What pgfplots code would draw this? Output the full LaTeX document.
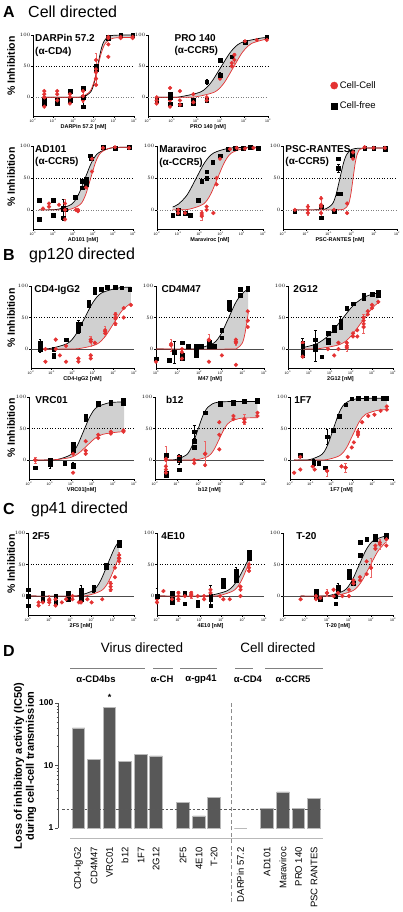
\documentclass[border=0pt]{standalone}
\usepackage{fontspec}
\setmainfont{Liberation Sans}
\usepackage{pgfplots}
\pgfplotsset{compat=1.18}
\usepgfplotslibrary{fillbetween}
\definecolor{cc}{RGB}{228,50,50}
\definecolor{fillgray}{RGB}{208,208,208}
\definecolor{barfill}{RGB}{88,88,88}
\definecolor{baredge}{RGB}{185,185,185}
\tikzset{pname/.style={anchor=north west, align=left, font=\bfseries\fontsize{10}{12.5}\selectfont, inner sep=0pt}}
\pgfplotsset{
  dr/.style={
    scale only axis, set layers, clip=false,
    axis lines*=left,
    axis line style={line width=0.5pt},
    ymin=-30, ymax=100, ytick={0,50,100},
    xtick={-3,...,5},
    minor xtick={-2.699,-2.523,-2.398,-2.301,-2.222,-2.155,-2.097,-2.046,
      -1.699,-1.523,-1.398,-1.301,-1.222,-1.155,-1.097,-1.046,
      -0.699,-0.523,-0.398,-0.301,-0.222,-0.155,-0.097,-0.046,
      0.301,0.477,0.602,0.699,0.778,0.845,0.903,0.954,
      1.301,1.477,1.602,1.699,1.778,1.845,1.903,1.954,
      2.301,2.477,2.602,2.699,2.778,2.845,2.903,2.954,
      3.301,3.477,3.602,3.699,3.778,3.845,3.903,3.954,
      4.301,4.477,4.602,4.699,4.778,4.845,4.903,4.954},
    xticklabel={10\textsuperscript{\pgfmathparse{int(round(\tick))}\pgfmathresult}},
    tick align=outside,
    major tick length=1.6pt, minor tick length=0.9pt,
    tick style={black, line width=0.4pt},
    yticklabel style={font=\fontsize{3.8}{4}\selectfont, inner sep=1pt},
    xticklabel style={font=\fontsize{3.5}{4}\selectfont, inner sep=1pt},
    xlabel style={font=\bfseries\fontsize{5.5}{6}\selectfont, inner sep=1pt},
  },
  bk/.style={black, line width=0.7pt, smooth},
  rd/.style={cc, line width=0.7pt, smooth},
  bkm/.style={only marks, mark=square*, mark size=1.8pt, black},
  rdm/.style={only marks, mark=*, mark size=1.9pt, cc},
  bke/.style={only marks, mark=square*, mark size=1.8pt, black, error bars/.cd, y dir=both, y explicit, error bar style={line width=0.45pt, black}, error mark options={rotate=90, mark size=1.3pt, line width=0.45pt, black}},
  rde/.style={only marks, mark=*, mark size=1.9pt, cc, error bars/.cd, y dir=both, y explicit, error bar style={line width=0.45pt, cc!75}, error mark options={rotate=90, mark size=1.3pt, line width=0.45pt, cc!75}},
  half/.style={black, dotted, line width=0.6pt},
  zeroA/.style={gray, dotted, line width=0.5pt},
  zeroB/.style={black!70, line width=0.6pt},
  gfill/.style={fillgray, draw=none},
}
\begin{document}
\begin{tikzpicture}
% ---------- titles ----------
\node[anchor=west, font=\bfseries\fontsize{16}{16}\selectfont, inner sep=0pt] at (3pt,-12pt) {A};
\node[anchor=west, font=\fontsize{16}{16}\selectfont, inner sep=0pt] at (28pt,-12pt) {Cell directed};
\node[anchor=west, font=\bfseries\fontsize{16}{16}\selectfont, inner sep=0pt] at (3pt,-255pt) {B};
\node[anchor=west, font=\fontsize{16}{16}\selectfont, inner sep=0pt] at (29pt,-255pt) {gp120 directed};
\node[anchor=west, font=\bfseries\fontsize{16}{16}\selectfont, inner sep=0pt] at (3pt,-509pt) {C};
\node[anchor=west, font=\fontsize{16}{16}\selectfont, inner sep=0pt] at (31pt,-509pt) {gp41 directed};
\node[anchor=west, font=\bfseries\fontsize{16}{16}\selectfont, inner sep=0pt] at (3pt,-651pt) {D};
% y labels
\foreach \yy in {66,177,318,428,564}{
  \node[rotate=90, font=\bfseries\fontsize{10.5}{11}\selectfont] at (11pt,-\yy pt) {\% Inhibition};
}

% ---------- P1 DARPin ----------
\begin{axis}[dr, at={(33pt,-116pt)}, anchor=south west, width=101pt, height=81pt, xmin=-2, xmax=3, xlabel={DARPin 57.2 [nM]}]
\addplot[half] coordinates {(-2,50)(3,50)};
\addplot[zeroA] coordinates {(-2,0)(3,0)};
\addplot[bk, name path=b1] coordinates {(-1.44,0)(0.2,0)(0.533,1)(0.867,9.1)(1.033,24)(1.2,50)(1.367,76)(1.533,90.9)(1.867,99)(2.93,100)};
\addplot[rd, name path=r1] coordinates {(-1.44,0)(0,0)(0.4,1)(0.8,8.7)(1.0,23)(1.2,48)(1.4,73)(1.6,87.3)(2.0,95)(2.93,96)};
\addplot[gfill] fill between[of=b1 and r1];
\addplot[bkm] coordinates {(-1.44,-5)(-1.44,-10)(-0.8,-5)(-0.8,-10)(-0.17,10)(-0.17,-5)(0.48,15)(0.48,-15)(1.12,50)(1.12,45)(1.73,97)(1.73,95)(2.34,100)(2.93,100)};
\addplot[rdm] coordinates {(-1.44,-15)(-1.44,0)(-1.44,10)(-1.44,5)(-0.8,10)(-0.8,-5)(-0.8,5)(-0.17,0)(-0.17,-10)(-0.17,5)(0.48,10)(0.48,-5)(0.48,0)(1.12,40)(1.12,60)(1.12,20)(1.12,30)(1.73,95)(1.73,85)(1.73,65)(1.73,97)(2.34,95)(2.34,97)(2.93,97)(2.93,95)};
\addplot[bke] coordinates {(0.48,0) +- (0,15)};
\addplot[rde] coordinates {(1.12,45) +- (0,25) (-1.44,0) +- (0,10) (0.48,2) +- (0,10)};
\node[pname] at (rel axis cs:0.02,1.01) {DARPin 57.2\\(α-CD4)};
\end{axis}

% ---------- P2 PRO 140 ----------
\begin{axis}[dr, at={(148pt,-116pt)}, anchor=south west, width=120pt, height=81pt, xmin=-2, xmax=3, xlabel={PRO 140 [nM]},
  legend style={at={(1.52,0.25)}, anchor=west, draw=none, fill=none, font=\fontsize{9.5}{10}\selectfont, row sep=8pt, inner sep=0pt}, legend cell align=left]
\addlegendimage{only marks, mark=*, mark size=3.6pt, cc}
\addlegendentry{Cell-Cell}
\addlegendimage{only marks, mark=square*, mark size=3pt, black}
\addlegendentry{Cell-free}
\addplot[half] coordinates {(-2,50)(3,50)};
\addplot[zeroA] coordinates {(-2,0)(3,0)};
\addplot[bk, name path=b2] coordinates {(-1.64,0)(-1,0)(-0.637,1)(0.197,8.7)(0.613,23)(1.03,48)(1.447,73)(1.863,87.3)(2.697,95)(2.95,95.5)};
\addplot[rd, name path=r2] coordinates {(-1.64,0)(-0.5,0)(0.012,0.9)(0.781,8.6)(1.165,22.8)(1.55,47.5)(1.935,72.2)(2.319,86.4)(2.95,93.6)};
\addplot[gfill] fill between[of=b2 and r2];
\addplot[bkm] coordinates {(-1.64,-5)(-1.08,-10)(-1.08,5)(-0.67,-12)(-0.11,-10)(-0.11,-5)(0.45,-5)(0.45,25)(1.0,35)(1.0,60)(1.49,65)(2.04,88)(2.95,97)};
\addplot[rdm] coordinates {(-1.64,-10)(-1.64,0)(-1.08,15)(-1.08,-5)(-1.08,-15)(-0.67,10)(-0.67,-12)(-0.67,-5)(-0.11,5)(-0.11,-8)(0.45,0)(0.45,-5)(1.0,30)(1.49,55)(1.49,50)(1.6,68)(2.04,90)(2.53,92)(2.95,92)};
\addplot[bke] coordinates {(1.0,35) +- (0,5) (-1.08,0) +- (0,8) (0.45,25) +- (0,4)};
\addplot[rde] coordinates {(1.6,60) +- (0,10) (-1.64,-5) +- (0,5)};
\node[pname] at (rel axis cs:0.22,1.01) {PRO 140\\(α-CCR5)};
\end{axis}

% ---------- P3 AD101 ----------
\begin{axis}[dr, at={(33pt,-229pt)}, anchor=south west, width=100pt, height=83pt, xmin=-1, xmax=4, xlabel={AD101 [nM]}]
\addplot[half] coordinates {(-1,50)(4,50)};
\addplot[zeroA] coordinates {(-1,0)(4,0)};
\addplot[bk, name path=b3] coordinates {(-0.7,0)(-0.2,0)(0.267,1)(0.933,8.9)(1.267,23.5)(1.6,49)(1.933,74.5)(2.267,89.1)(2.933,97)(3.8,98)};
\addplot[rd, name path=r3] coordinates {(-0.7,0)(0.4,0)(0.88,1)(1.38,8.9)(1.63,23.5)(1.88,49)(2.13,74.5)(2.38,89.1)(2.88,97)(3.8,98)};
\addplot[gfill] fill between[of=b3 and r3];
\addplot[bkm] coordinates {(-0.7,15)(-0.7,-15)(0.0,15)(0.0,-8)(0.5,3)(0.5,-12)(0.6,0)(1.1,20)(1.45,35)(1.45,45)(1.65,40)(1.65,48)(1.85,85)(1.9,80)(2.5,98)(3.1,97)(3.8,98)};
\addplot[rdm] coordinates {(-0.5,2)(-0.2,10)(-0.2,5)(0.3,8)(0.6,0)(0.6,-15)(0.6,10)(1.15,0)(1.25,-2)(1.25,0)(1.65,35)(1.95,60)(1.95,80)(2.5,97)(3.1,98)(3.8,97)};
\addplot[bke] coordinates {(0.5,0) +- (0,16)};
\addplot[rde] coordinates {(0.6,0) +- (0,17)};
\node[pname] at (rel axis cs:0.02,1.01) {AD101\\(α-CCR5)};
\end{axis}

% ---------- P4 Maraviroc ----------
\begin{axis}[dr, at={(157pt,-229pt)}, anchor=south west, width=106pt, height=83pt, xmin=-2, xmax=3, xlabel={Maraviroc [nM]}]
\addplot[half] coordinates {(-2,50)(3,50)};
\addplot[zeroA] coordinates {(-2,0)(3,0)};
\addplot[bk, name path=b4] coordinates {(-1.26,4.5)(-0.993,8.9)(-0.577,23.5)(-0.16,49)(0.257,74.5)(0.673,89.1)(1.507,97)(2.78,98)};
\addplot[rd, name path=r4] coordinates {(-1.26,0)(-1.0,0)(-0.483,1)(0.183,8.9)(0.517,23.5)(0.85,49)(1.183,74.5)(1.517,89.1)(2.183,97)(2.78,98)};
\addplot[gfill] fill between[of=b4 and r4];
\addplot[bkm] coordinates {(-1.26,-8)(-1.0,-5)(-1.0,0)(-0.68,-5)(-0.44,-8)(-0.05,15)(0.11,45)(0.34,50)(0.34,60)(0.63,75)(0.97,85)(1.33,95)(1.68,97)(2.07,97)(2.39,98)(2.78,97)};
\addplot[rdm] coordinates {(-1.0,0)(-1.0,-5)(-0.68,-5)(0.11,-10)(0.11,-5)(0.34,0)(0.34,5)(0.66,-5)(0.81,50)(0.81,40)(0.97,80)(1.44,95)(1.76,97)(2.15,96)(2.55,97)};
\addplot[rde] coordinates {(0.11,-8) +- (0,8)};
\node[pname] at (rel axis cs:0.02,1.01) {Maraviroc\\(α-CCR5)};
\end{axis}

% ---------- P5 PSC-RANTES ----------
\begin{axis}[dr, at={(283pt,-229pt)}, anchor=south west, width=114pt, height=83pt, xmin=-3, xmax=2, xlabel={PSC-RANTES [nM]}]
\addplot[half] coordinates {(-3,50)(2,50)};
\addplot[zeroA] coordinates {(-3,0)(2,0)};
\addplot[bk, name path=b5] coordinates {(-2.48,0)(-1.6,0)(-1.177,1)(-0.843,8.8)(-0.677,23.3)(-0.51,48.5)(-0.343,73.7)(-0.177,88.2)(0.157,96)(1.47,97)};
\addplot[rd, name path=r5] coordinates {(-2.48,0)(-0.8,0)(-0.33,1)(-0.13,8.8)(-0.03,23.3)(0.07,48.5)(0.17,73.7)(0.27,88.2)(0.47,96)(1.47,97)};
\addplot[gfill] fill between[of=b5 and r5];
\addplot[bkm] coordinates {(-2.48,-2)(-1.33,-12)(-1.33,5)(-0.76,-2)(-0.57,25)(-0.57,65)(-0.57,80)(-0.47,25)(0.04,85)(0.04,90)(0.58,97)(0.97,97)(1.47,97)(1.47,95)};
\addplot[rdm] coordinates {(-2.48,0)(-1.91,5)(-1.91,-5)(-1.33,8)(-1.33,-5)(-1.33,18)(-0.76,0)(-0.19,10)(-0.19,-5)(0.07,80)(0.07,90)(0.58,98)(0.97,97)(1.47,97)};
\addplot[rde] coordinates {(-1.33,5) +- (0,16) (-1.91,0) +- (0,9)};
\addplot[bke] coordinates {(-0.57,65) +- (0,6)};
\node[pname] at (rel axis cs:0.02,1.01) {PSC-RANTES\\(α-CCR5)};
\end{axis}

% ---------- P6 CD4-IgG2 ----------
\begin{axis}[dr, at={(31pt,-368pt)}, anchor=south west, width=103pt, height=82pt, xmin=-2, xmax=3, xlabel={CD4-IgG2 [nM]}]
\addplot[half] coordinates {(-2,50)(3,50)};
\addplot[zeroB] coordinates {(-2,0)(3,0)};
\addplot[bk, name path=b6] coordinates {(-1.56,0)(-1.067,1)(-0.233,8.9)(0.183,23.5)(0.6,49)(1.017,74.5)(1.433,89.1)(2.267,97)(2.85,98)};
\addplot[rd, name path=r6] coordinates {(-1.56,0)(-0.5,0)(0.333,0.8)(1.167,7.3)(1.583,19.2)(2.0,40)(2.417,60.8)(2.85,72.9)};
\addplot[gfill] fill between[of=b6 and r6];
\addplot[bkm] coordinates {(-1.56,10)(-1.56,0)(-0.9,0)(-0.9,-10)(-0.9,-12)(-0.3,15)(0.3,40)(0.3,30)(0.4,40)(0.8,75)(0.8,70)(1.1,90)(1.1,95)(1.4,95)(1.7,98)(2.1,98)(2.4,97)(2.8,95)};
\addplot[rdm] coordinates {(-1.3,0)(-1.3,-20)(-0.8,15)(-0.8,0)(-0.6,-10)(-0.3,-20)(-0.3,5)(0.3,-15)(0.3,-20)(0.9,15)(0.9,-10)(0.9,-15)(1.1,10)(1.6,30)(1.6,25)(2.1,50)(2.1,55)(2.1,40)(2.5,65)(2.5,50)(2.85,70)};
\addplot[bke] coordinates {(-1.56,5) +- (0,10) (0.3,35) +- (0,10)};
\addplot[rde] coordinates {(1.6,28) +- (0,8) (2.1,48) +- (0,10) (0.9,12) +- (0,8)};
\node[pname] at (rel axis cs:0.03,1.01) {CD4-IgG2};
\end{axis}

% ---------- P7 CD4M47 ----------
\begin{axis}[dr, at={(156pt,-368pt)}, anchor=south west, width=108pt, height=82pt, xmin=0, xmax=5, xlabel={M47 [nM]}]
\addplot[half] coordinates {(0,50)(5,50)};
\addplot[zeroB] coordinates {(0,0)(5,0)};
\addplot[bk, name path=b7] coordinates {(0,0)(1.5,0)(1.941,1)(2.656,9.1)(3.013,24)(3.37,50)(3.727,76)(4.084,90.9)(4.27,94.8)};
\addplot[rd, name path=r7] coordinates {(0,0)(3.4,0)(3.74,1)(3.99,9.1)(4.115,24)(4.24,50)(4.27,57)};
\addplot[gfill] fill between[of=b7 and r7];
\addplot[bkm] coordinates {(0.0,-15)(0.6,-18)(0.85,-5)(1.2,10)(1.2,-15)(1.2,-10)(1.5,5)(1.85,5)(1.85,-10)(2.1,5)(2.45,12)(2.45,5)(2.7,5)(3.05,30)(3.05,18)(3.4,65)(3.4,75)(3.9,85)(3.9,95)(4.25,97)(4.25,95)};
\addplot[rdm] coordinates {(0.0,-20)(0.7,8)(1.2,0)(1.2,-5)(1.2,-15)(2.45,15)(2.45,-20)(3.05,-10)(3.7,15)(3.7,10)(3.7,-25)(4.25,60)(4.25,45)(4.25,35)};
\addplot[bke] coordinates {(0.85,-5) +- (0,18) (3.4,68) +- (0,8) (1.85,-2) +- (0,10)};
\addplot[rde] coordinates {(0.7,6) +- (0,10) (2.45,14) +- (0,10) (3.7,12) +- (0,6)};
\node[pname] at (rel axis cs:0.05,1.01) {CD4M47};
\end{axis}

% ---------- P8 2G12 ----------
\begin{axis}[dr, at={(288pt,-368pt)}, anchor=south west, width=105pt, height=82pt, xmin=-1, xmax=4, xlabel={2G12 [nM]}]
\addplot[half] coordinates {(-1,50)(4,50)};
\addplot[zeroB] coordinates {(-1,0)(4,0)};
\addplot[bk, name path=b8] coordinates {(-0.3,2.4)(0.364,8.4)(0.952,22.1)(1.54,46)(2.128,69.9)(2.716,83.6)(3.3,89.1)};
\addplot[rd, name path=r8] coordinates {(-0.3,0)(0.5,0.8)(1.5,7.7)(2.0,20.4)(2.5,42.5)(3.0,64.6)(3.3,73.4)};
\addplot[gfill] fill between[of=b8 and r8];
\addplot[bkm] coordinates {(-0.3,-5)(-0.3,-10)(-0.3,10)(0.3,0)(0.3,15)(0.6,-12)(0.9,25)(0.9,15)(0.9,10)(1.2,30)(1.2,35)(1.5,45)(1.5,35)(1.8,65)(2.1,72)(2.6,85)(2.6,80)(3.0,87)(3.3,90)(3.3,85)};
\addplot[rdm] coordinates {(-0.3,10)(-0.3,-12)(0.9,0)(1.2,-10)(1.4,0)(1.4,10)(1.8,10)(1.8,2)(2.1,25)(2.1,20)(2.3,30)(2.3,20)(2.6,50)(2.6,45)(2.6,35)(2.8,60)(2.8,55)(3.0,70)(3.0,65)(3.3,75)};
\addplot[bke] coordinates {(0.3,5) +- (0,25) (-0.3,5) +- (0,12) (1.5,42) +- (0,10)};
\addplot[rde] coordinates {(2.6,40) +- (0,15) (1.8,5) +- (0,8)};
\node[pname] at (rel axis cs:0.05,1.01) {2G12};
\end{axis}

% ---------- P9 VRC01 ----------
\begin{axis}[dr, at={(29pt,-479pt)}, anchor=south west, width=105pt, height=82pt, xmin=-2, xmax=3, xlabel={VRC01[nM]}]
\addplot[half] coordinates {(-2,50)(3,50)};
\addplot[zeroB] coordinates {(-2,0)(3,0)};
\addplot[bk, name path=b9] coordinates {(-1.7,0)(-1.2,0)(-0.65,0.9)(-0.025,8.4)(0.2875,22.1)(0.6,46)(0.9125,69.9)(1.225,83.6)(1.85,91.1)(2.53,92)};
\addplot[rd, name path=r9] coordinates {(-1.7,0)(-1.2,0)(-0.788,0.45)(-0.019,4.1)(0.365,10.8)(0.75,22.5)(1.135,34.2)(1.519,40.9)(2.288,44.6)(2.53,44.8)};
\addplot[gfill] fill between[of=b9 and r9];
\addplot[bkm] coordinates {(-1.7,-12)(-1.0,0)(-1.0,-7)(-0.3,-5)(0.1,25)(0.1,20)(0.1,15)(0.1,-10)(0.7,65)(0.7,70)(1.3,90)(1.3,88)(1.9,92)(1.9,90)(2.5,95)(2.5,92)(2.5,90)};
\addplot[rdm] coordinates {(-1.7,0)(0.1,10)(0.1,-20)(0.7,30)(0.7,15)(0.7,10)(1.3,40)(1.3,35)(1.9,42)(1.9,45)(2.5,47)(2.5,45)};
\addplot[bke] coordinates {(-1.0,-5) +- (0,8) (0.1,-8) +- (0,5)};
\addplot[rde] coordinates {(-1.7,0) +- (0,5)};
\node[pname] at (rel axis cs:0.06,1.01) {VRC01};
\end{axis}

% ---------- P10 b12 ----------
\begin{axis}[dr, at={(155pt,-479pt)}, anchor=south west, width=109pt, height=82pt, xmin=-2, xmax=3, xlabel={b12 [nM]}]
\addplot[half] coordinates {(-2,50)(3,50)};
\addplot[zeroB] coordinates {(-2,0)(3,0)};
\addplot[bk, name path=b10] coordinates {(-1.5,0)(-1.05,0.9)(-0.55,8.5)(-0.3,22.3)(-0.05,46.5)(0.2,70.7)(0.45,84.5)(0.95,92.1)(2.7,93)};
\addplot[rd, name path=r10] coordinates {(-1.5,0)(-0.6,0)(-0.05,0.7)(0.45,6.1)(0.7,16.1)(0.95,33.5)(1.2,50.9)(1.45,60.9)(1.95,66.3)(2.7,67)};
\addplot[gfill] fill between[of=b10 and r10];
\addplot[bkm] coordinates {(-1.5,8)(-1.5,-20)(-1.5,-25)(-0.9,0)(-0.9,5)(-0.9,-15)(-0.2,45)(-0.2,30)(-0.2,20)(0.3,75)(1.0,90)(1.0,88)(1.6,92)(1.6,90)(2.1,93)(2.7,93)(2.7,95)};
\addplot[rdm] coordinates {(-1.5,0)(-1.5,-10)(-1.5,-15)(-1.5,-20)(-0.9,0)(-0.9,5)(-0.2,0)(-0.2,-5)(0.3,10)(0.3,-8)(0.95,60)(0.95,40)(0.95,17)(1.6,70)(1.6,65)(2.1,65)(2.1,60)(2.7,75)(2.7,70)};
\addplot[bke] coordinates {(-0.2,45) +- (0,10) (-0.9,2) +- (0,8)};
\addplot[rde] coordinates {(-1.5,2) +- (0,20) (0.3,10) +- (0,20) (2.1,65) +- (0,8)};
\node[pname] at (rel axis cs:0.1,1.01) {b12};
\end{axis}

% ---------- P11 1F7 ----------
\begin{axis}[dr, at={(290pt,-479pt)}, anchor=south west, width=103pt, height=82pt, xmin=-2, xmax=3, xlabel={1F7 [nM]}]
\addplot[half] coordinates {(-2,50)(3,50)};
\addplot[zeroB] coordinates {(-2,0)(3,0)};
\addplot[bk, name path=b11] coordinates {(-1.8,0)(-1.5,0)(-1.011,1)(-0.456,8.9)(-0.178,23.5)(0.1,49)(0.378,74.5)(0.656,89.1)(1.211,97)(2.7,98)};
\addplot[rd, name path=r11] coordinates {(-1.8,0)(-0.8,0)(-0.2,0.8)(0.425,7.3)(0.738,19.2)(1.05,40)(1.363,60.8)(1.675,72.7)(2.3,79.2)(2.7,79.7)};
\addplot[gfill] fill between[of=b11 and r11];
\addplot[bkm] coordinates {(-1.5,8)(-0.85,-5)(-0.85,-3)(-0.6,-5)(-0.3,-12)(-0.2,37)(0.1,47)(0.4,70)(0.7,88)(1.0,97)(1.3,98)(1.7,98)(2.1,98)(2.5,98)(2.7,98)};
\addplot[rdm] coordinates {(-1.8,-20)(-1.5,-15)(-1.5,5)(-0.9,-10)(-0.8,-15)(-0.2,-17)(0.5,-10)(0.7,-12)(0.8,5)(1.0,20)(1.1,28)(1.3,45)(1.3,40)(1.5,60)(1.8,70)(2.1,72)(2.4,78)(2.7,80)(2.7,85)};
\addplot[bke] coordinates {(-0.2,37) +- (0,12) (-0.85,-4) +- (0,6)};
\addplot[rde] coordinates {(-0.2,-17) +- (0,8) (0.7,-12) +- (0,7) (1.3,43) +- (0,6)};
\node[pname] at (rel axis cs:0.04,1.01) {1F7};
\end{axis}

% ---------- P12 2F5 ----------
\begin{axis}[dr, at={(28pt,-615pt)}, anchor=south west, width=106pt, height=82pt, xmin=-1, xmax=4, xlabel={2F5 [nM]}]
\addplot[half] coordinates {(-1,50)(4,50)};
\addplot[zeroB] coordinates {(-1,0)(4,0)};
\addplot[bk, name path=b12] coordinates {(-1,0)(1.0,0)(1.417,1)(2.083,9.1)(2.417,24)(2.75,50)(3.083,76)(3.3,87)};
\addplot[rd, name path=r12] coordinates {(-1,0)(1.3,0)(1.817,1)(2.483,9.1)(2.817,24)(3.15,50)(3.3,62.7)};
\addplot[gfill] fill between[of=b12 and r12];
\addplot[bkm] coordinates {(-1.0,10)(-1.0,-15)(-1.0,0)(-0.3,5)(-0.3,-5)(0.3,0)(0.3,-10)(0.9,5)(0.9,-5)(1.5,10)(1.5,0)(1.5,-5)(2.1,10)(2.1,15)(2.7,45)(2.7,50)(3.3,80)(3.3,85)};
\addplot[rdm] coordinates {(-0.5,-10)(-0.5,-15)(-0.3,-10)(0.0,-5)(0.0,-10)(0.3,-15)(0.3,-5)(0.6,-10)(0.8,-5)(1.1,-5)(1.1,0)(1.4,-10)(1.5,-10)(1.8,-5)(2.0,-10)(2.5,-5)(2.9,10)(2.9,20)(3.1,45)(3.1,30)(3.3,60)(3.3,55)(3.3,65)};
\addplot[bke] coordinates {(1.5,8) +- (0,10) (2.1,12) +- (0,6)};
\addplot[rde] coordinates {(3.3,60) +- (0,10) (2.9,15) +- (0,8) (0.0,-7) +- (0,8)};
\node[pname] at (rel axis cs:0.04,1.01) {2F5};
\end{axis}

% ---------- P13 4E10 ----------
\begin{axis}[dr, at={(157pt,-615pt)}, anchor=south west, width=107pt, height=82pt, xmin=-1, xmax=4, xlabel={4E10 [nM]}]
\addplot[half] coordinates {(-1,50)(4,50)};
\addplot[zeroB] coordinates {(-1,0)(4,0)};
\addplot[bk, name path=b13] coordinates {(-1,0)(1.0,0)(1.483,1)(2.317,9.1)(2.733,24)(3.15,50)(3.3,60.2)};
\addplot[rd, name path=r13] coordinates {(-1,0)(1.4,0)(1.937,1)(2.603,9.1)(2.937,24)(3.27,50)(3.3,52.6)};
\addplot[gfill] fill between[of=b13 and r13];
\addplot[bkm] coordinates {(-1.0,0)(-0.3,-5)(-0.3,-10)(-0.3,5)(0.3,5)(0.3,-12)(0.9,-10)(0.9,-15)(1.5,-5)(1.5,-15)(1.5,0)(2.1,25)(2.1,15)(2.1,20)(2.7,40)(2.7,25)(2.7,30)(3.3,70)(3.3,65)(3.3,60)};
\addplot[rdm] coordinates {(-1.0,-5)(-1.0,-10)(-0.7,8)(-0.3,-5)(0.0,-5)(0.0,5)(0.3,0)(0.6,5)(0.6,0)(0.9,0)(1.2,0)(1.2,-5)(1.5,10)(1.5,0)(1.95,0)(2.1,-5)(2.4,-5)(2.9,15)(2.9,10)(2.9,0)(3.3,50)(3.3,45)(3.3,40)};
\addplot[bke] coordinates {(-1.0,0) +- (0,12) (1.5,0) +- (0,18) (2.7,35) +- (0,10)};
\addplot[rde] coordinates {(0.0,0) +- (0,8) (0.6,2) +- (0,6) (1.5,5) +- (0,6)};
\node[pname] at (rel axis cs:0.04,1.01) {4E10};
\end{axis}

% ---------- P14 T-20 ----------
\begin{axis}[dr, at={(283pt,-615pt)}, anchor=south west, width=110pt, height=82pt, xmin=-2, xmax=3, xlabel={T-20 [nM]}]
\addplot[half] coordinates {(-2,50)(3,50)};
\addplot[zeroB] coordinates {(-2,0)(3,0)};
\addplot[bk, name path=b14] coordinates {(-1.2,0)(-0.3,0)(0.117,1)(0.783,8.8)(1.117,23.3)(1.45,48.5)(1.783,73.7)(2.117,88.2)(2.7,95.7)};
\addplot[rd, name path=r14] coordinates {(-1.2,0)(-0.2,0)(0.412,0.9)(1.181,8.6)(1.565,22.8)(1.95,47.5)(2.335,72.2)(2.7,85.9)};
\addplot[gfill] fill between[of=b14 and r14];
\addplot[bkm] coordinates {(-0.5,8)(-0.5,0)(-0.3,-5)(0.4,-12)(0.4,0)(0.5,10)(0.5,15)(1.0,40)(1.0,35)(1.0,30)(1.2,20)(1.5,65)(1.5,85)(1.8,90)(2.2,95)(2.2,90)(2.7,97)(2.7,95)};
\addplot[rdm] coordinates {(-1.2,-5)(-0.5,0)(-0.5,-5)(-0.3,-3)(0.0,5)(0.3,0)(0.3,10)(0.5,5)(0.7,0)(1.0,10)(1.0,0)(1.2,20)(1.2,25)(1.5,25)(1.5,30)(1.8,55)(1.8,35)(2.0,45)(2.2,75)(2.2,80)(2.4,85)(2.7,90)(2.7,80)};
\addplot[bke] coordinates {(0.5,12) +- (0,8)};
\addplot[rde] coordinates {(2.0,45) +- (0,15) (0.0,5) +- (0,6) (2.4,82) +- (0,8)};
\node[pname] at (rel axis cs:0.12,1.01) {T-20};
\end{axis}

% ---------- Panel D ----------
\node[font=\fontsize{13.5}{14}\selectfont] at (142pt,-648pt) {Virus directed};
\node[font=\fontsize{13.5}{14}\selectfont] at (278pt,-648pt) {Cell directed};
\draw[gray, line width=0.7pt] (70pt,-668pt) -- (145pt,-668pt);
\draw[gray, line width=0.7pt] (153pt,-668pt) -- (173pt,-668pt);
\draw[gray, line width=0.7pt] (180pt,-668pt) -- (217pt,-668pt);
\draw[gray, line width=0.7pt] (235pt,-668pt) -- (253pt,-668pt);
\draw[gray, line width=0.7pt] (265pt,-668pt) -- (323pt,-668pt);
\foreach \xx/\tt in {96/α-CD4bs,162/α-CH,201/α-gp41,248/α-CD4,293/α-CCR5}{
  \node[font=\bfseries\fontsize{9.5}{10}\selectfont] at (\xx pt,-679pt) {\tt};
}
\node[rotate=90, align=center, font=\bfseries\fontsize{11}{12}\selectfont] at (25pt,-766pt) {Loss of inhibitory activity (IC50)\\during cell-cell transmission};

\begin{axis}[at={(58pt,-828pt)}, anchor=south west, scale only axis, width=265pt, height=125pt,
  xmin=58, xmax=323, ymode=log, ymin=1, ymax=100, clip=false,
  axis lines*=left, x axis line style={draw=none}, y axis line style={black!70, line width=0.6pt},
  ytick={1,10,100}, yticklabels={1,10,100},
  yticklabel style={font=\bfseries\fontsize{8.5}{9}\selectfont, inner sep=1.5pt},
  tick align=outside, major tick length=3pt, minor tick length=1.5pt,
  tick style={black!70, line width=0.5pt},
  xtick={78.5,94,109.5,125,141,156,183,199,214,240.5,267,283,298.5,314},
  xticklabels={CD4-IgG2,CD4M47,VRC01,b12,1F7,2G12,2F5,4E10,T-20,DARPin 57.2,AD101,Maraviroc,PRO 140,PSC RANTES},
  xtick style={draw=none},
  xticklabel style={rotate=90, anchor=east, font=\fontsize{9.5}{10}\selectfont, inner sep=0pt},
  xticklabel shift={16pt},
]
\addplot[ybar, bar width=12.5pt, fill=barfill, draw=baredge, line width=0.6pt] coordinates {
(78.5,40)(94,12.7)(109.5,86)(125,11.8)(141,15)(156,14.2)(183,2.6)(199,1.56)(214,3.1)(240.5,1.0)(267,2.09)(283,3.77)(298.5,2.09)(314,3.0)};
\addplot[black!65, line width=0.8pt, dash pattern=on 2.5pt off 2pt] coordinates {(62,2)(323,2)};
\addplot[black!45, line width=0.6pt, dash pattern=on 4pt off 2.5pt] coordinates {(231,0.0655)(231,104)};
\addplot[baredge, line width=1pt] coordinates {(70,0.692)(323,0.692)};
\node[font=\bfseries\fontsize{9}{9}\selectfont] at (axis cs:109.5,122) {*};
\end{axis}
\pgfresetboundingbox
\useasboundingbox (0pt,0pt) rectangle (402pt,-912pt);
\end{tikzpicture}
\end{document}
